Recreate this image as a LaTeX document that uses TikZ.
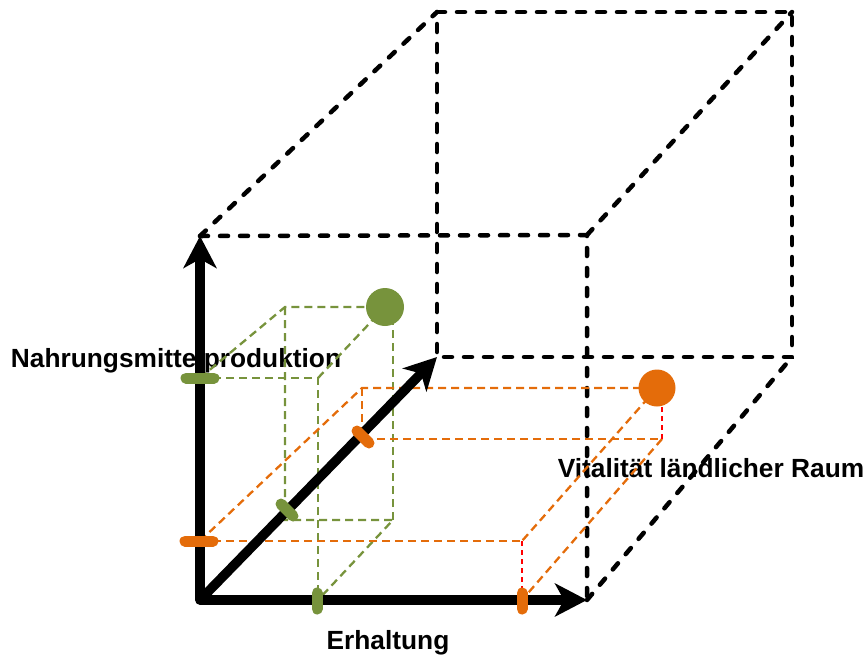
\documentclass[tikz,border=0pt]{standalone}
\usepackage{fontspec}
\setmainfont{Liberation Sans}
\usetikzlibrary{arrows.meta}
\definecolor{grn}{HTML}{77933C}
\definecolor{org}{HTML}{E46C0A}
\begin{document}
\begin{tikzpicture}[x=1pt,y=-1pt,
  cubeedge/.style={line width=4.5pt, dash pattern=on 8pt off 12pt, line cap=round, black},
  axisline/.style={line width=9.5pt, line join=round},
  tipstyle/.style={-{Stealth[length=32pt,width=33pt,inset=9pt]}},
  gline/.style={grn, line width=2.3pt, dash pattern=on 8pt off 5pt},
  oline/.style={org, line width=2.3pt, dash pattern=on 8pt off 5pt},
  rline/.style={red, line width=2.2pt, dash pattern=on 5pt off 4pt},
  gtick/.style={grn, line width=11pt, line cap=round},
  otick/.style={org, line width=11pt, line cap=round},
  lbl/.style={font=\fontsize{26.3}{30}\selectfont\bfseries, inner sep=0pt, anchor=base}
]
\useasboundingbox (0,0) rectangle (868,657);

% labels (drawn first, lines go over them)
\node[lbl] (lnahr) at (176,367) {Nahrungsmittelproduktion};
\node[lbl] (lvital) at (711,477) {Vitalität ländlicher Raum};
\node[lbl] (lerh) at (388,649) {Erhaltung};

% cube corners
\coordinate (O) at (200,600);
\coordinate (FTL) at (200,236);
\coordinate (FTR) at (587,235);
\coordinate (FBR) at (587,600);
\coordinate (BTL) at (437,12);
\coordinate (BTR) at (792,12);
\coordinate (BBR) at (792,357);
\coordinate (BBL) at (437,357);

% dashed cube edges
\draw[cubeedge] (FTL) -- (FTR) -- (FBR);
\draw[cubeedge] (BTL) -- (BTR) -- (BBR) -- (BBL) -- cycle;
\draw[cubeedge] (FTL) -- (BTL);
\draw[cubeedge] (FTR) -- (BTR);
\draw[cubeedge] (FBR) -- (BBR);

% green box
\coordinate (gY) at (200,378);
\coordinate (gA) at (318,378);
\coordinate (gX) at (318,600);
\coordinate (gB) at (285,307);
\coordinate (gS) at (385,307);
\coordinate (gC) at (285,520);
\coordinate (gD) at (393,520);
\coordinate (gE) at (393,307);
\draw[gline] (gY) -- (gA) -- (gX);
\draw[gline] (gY) -- (gB) -- (gS);
\draw[gline] (gA) -- (gS);
\draw[gline] (gB) -- (gC) -- (gD) -- (gX);
\draw[gline] (gD) -- (gE);

% orange box
\coordinate (oY) at (200,541);
\coordinate (oA) at (522,541);
\coordinate (oX) at (522,600);
\coordinate (oB) at (362,388);
\coordinate (oS) at (657,388);
\coordinate (oC) at (362,436);
\coordinate (oD) at (377,439);
\coordinate (oE) at (662,439);
\coordinate (oF) at (662,395);
\draw[oline] (oY) -- (oA);
\draw[oline] (oY) -- (oB) -- (oS);
\draw[oline] (oB) -- (oC);
\draw[oline] (oD) -- (oE);
\draw[oline] (oS) -- (oA);
\draw[oline] (oE) -- (oX);
\draw[rline] (oA) -- (oX);
\draw[rline] (oE) -- (oF);

% axes
\draw[axisline, {Stealth[length=32pt,width=33pt,inset=9pt]}-{Stealth[length=32pt,width=33pt,inset=9pt]}] (FTL) -- (O) -- (FBR);
\draw[axisline, tipstyle] (O) -- (BBL);

% ticks
\draw[gtick] (186,378) -- (214,378);
\draw[gtick] (281,504) -- (293,516);
\draw[gtick] (317,593) -- (317,609);
\draw[otick] (185,541) -- (213,541);
\draw[otick] (357,431) -- (369,443);
\draw[otick] (522,593) -- (522,609);

% spheres
\fill[grn] (gS) circle (19);
\fill[org] (oS) circle (18.5);
\end{tikzpicture}
\end{document}
